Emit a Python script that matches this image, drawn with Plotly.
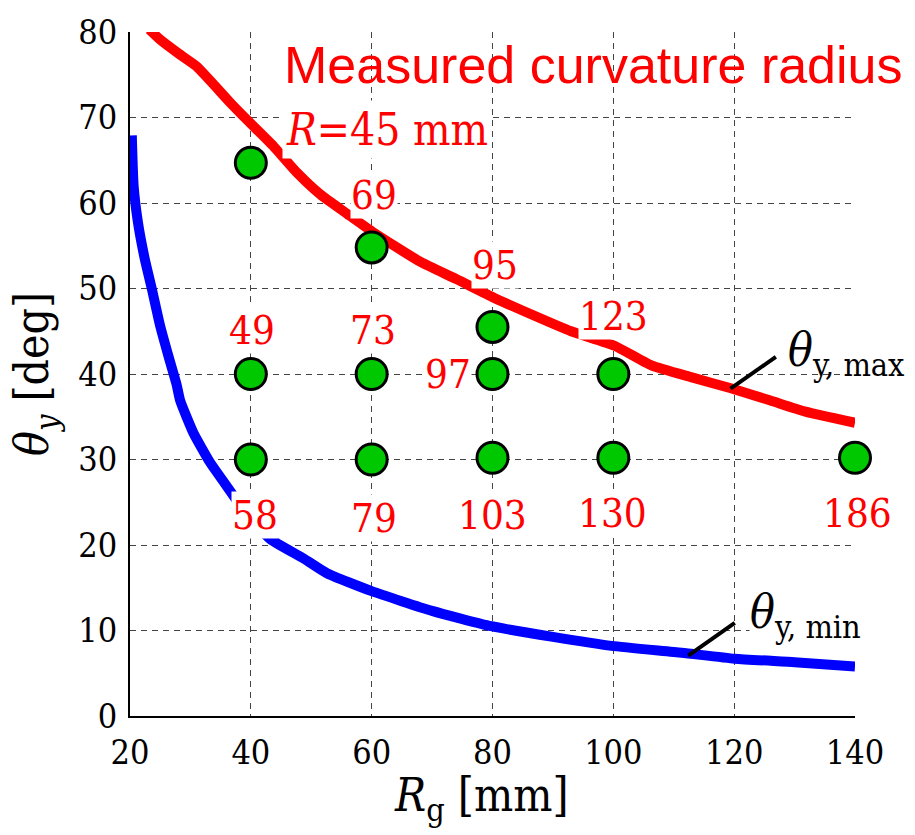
import plotly.graph_objects as go

# Upper limit curve theta_y,max versus guide radius R_g
rg_max = [23.2, 25, 28, 31, 33.8, 36.5, 39.4, 43.8, 47.7, 51.5, 56, 60.4, 68.1, 74,
          80.3, 86, 93, 100.2, 106.3, 113, 119.6, 126, 131.8, 140]
theta_max = [80.3, 79.1, 77.5, 76.0, 73.9, 71.8, 69.7, 66.6, 63.5, 61.0, 58.7, 56.5, 53.1, 51.1,
             48.9, 47.1, 45.0, 43.3, 41.0, 39.6, 38.3, 36.9, 35.6, 34.3]

# Lower limit curve theta_y,min versus guide radius R_g
rg_min = [20.3, 20.6, 21.3, 22.4, 23.6, 25.0, 26.4, 27.7, 28.3, 30.5, 33.3, 35.8, 39,
          43.2, 48.8, 52.6, 60, 70, 79.8, 90, 99.7, 111.3, 120.1, 130, 140]
theta_min = [67.9, 62.0, 57.8, 53.6, 50.0, 45.6, 42.0, 38.8, 36.9, 33.1, 29.6, 27.1, 23.9,
             20.7, 18.4, 16.7, 14.6, 12.3, 10.5, 9.25, 8.2, 7.4, 6.7, 6.3, 5.8]

# Test conditions and measured curvature radius [mm]
rg_pts = [40, 60, 80, 40, 60, 80, 100, 40, 60, 80, 100, 140]
theta_pts = [64.7, 54.8, 45.5, 40, 40, 40, 40, 30, 30, 30.2, 30.2, 30.2]
radius_pts = [45, 69, 95, 49, 73, 97, 123, 58, 79, 103, 130, 186]

# pixel offsets of each radius label from its point
label_shift = [(31, 33), (2, 52), (2, 62), (1, 44), (1, 44), (-45, 0), (0, 58),
               (4, -55), (2, -58), (0, -57), (-1, -55), (2, -55)]

x_ticks = [20, 40, 60, 80, 100, 120, 140]
y_ticks = [0, 10, 20, 30, 40, 50, 60, 70, 80]

SERIF = "DejaVu Serif Condensed, DejaVu Serif"
SANS = "Liberation Sans"

fig = go.Figure()
fig.add_trace(go.Scatter(x=rg_max, y=theta_max, mode="lines",
                         line=dict(color="#ff0000", width=10, shape="spline", smoothing=0.5),
                         showlegend=False))
fig.add_trace(go.Scatter(x=rg_min, y=theta_min, mode="lines",
                         line=dict(color="#0000ff", width=10, shape="spline", smoothing=0.5),
                         showlegend=False))
fig.add_trace(go.Scatter(x=rg_pts, y=theta_pts, mode="markers",
                         marker=dict(size=31, color="#00c800",
                                     line=dict(color="black", width=3)),
                         showlegend=False, cliponaxis=False))

annotations = []
for i, (xv, yv, r) in enumerate(zip(rg_pts, theta_pts, radius_pts)):
    dx, dy = label_shift[i]
    if i == 0:
        annotations.append(dict(x=xv, y=yv, xref="x", yref="y", xanchor="left",
                                yanchor="middle", xshift=dx, yshift=dy, showarrow=False,
                                text=f"<i>R</i>={r} mm", bgcolor="white", borderpad=3,
                                font=dict(family=SERIF, size=44, color="#ff0000")))
    else:
        annotations.append(dict(x=xv, y=yv, xref="x", yref="y", xanchor="center",
                                yanchor="middle", xshift=dx, yshift=dy, showarrow=False,
                                text=str(r), bgcolor="white", borderpad=0,
                                font=dict(family=SERIF, size=40, color="#ff0000")))

annotations.append(dict(x=45.2, y=76.1, xref="x", yref="y", xanchor="left", yanchor="middle",
                        showarrow=False, text="Measured curvature radius",
                        font=dict(family=SANS, size=52, color="#ff0000")))

# curve name labels
annotations.append(dict(x=128.6, y=42.4, xref="x", yref="y", xanchor="left", yanchor="middle",
                        showarrow=False, text="<i>θ</i><sub>y, max</sub>",
                        font=dict(family=SERIF, size=46, color="black")))
annotations.append(dict(x=122.5, y=11.8, xref="x", yref="y", xanchor="left", yanchor="middle",
                        showarrow=False, text="<i>θ</i><sub>y, min</sub>",
                        bgcolor="white", borderpad=0,
                        font=dict(family=SERIF, size=46, color="black")))

# axis titles
annotations.append(dict(x=0.4855, y=-0.121, xref="paper", yref="paper", xanchor="center",
                        yanchor="middle", showarrow=False, text="<i>R</i><sub>g</sub> [mm]",
                        font=dict(family=SERIF, size=46, color="black")))
annotations.append(dict(x=-0.131, y=0.5, xref="paper", yref="paper", xanchor="center",
                        yanchor="middle", showarrow=False, textangle=-90,
                        text="<i>θ</i><sub><i>y</i></sub> [deg]",
                        font=dict(family=SERIF, size=46, color="black")))

shapes = [
    dict(type="line", xref="x", yref="y", x0=119.4, y0=38.3, x1=126.9, y1=42.0,
         line=dict(color="black", width=4)),
    dict(type="line", xref="x", yref="y", x0=112.4, y0=7.05, x1=120.1, y1=10.9,
         line=dict(color="black", width=4)),
]

axis_common = dict(
    showgrid=True, gridcolor="#444444", gridwidth=1.3, griddash="6px,5px",
    showline=True, linecolor="black", linewidth=2, mirror=False,
    ticks="", zeroline=False,
    tickfont=dict(family=SERIF, size=34, color="black"),
)

fig.update_layout(
    width=915, height=835,
    margin=dict(l=130, r=60, t=24, b=119),
    paper_bgcolor="white", plot_bgcolor="white",
    xaxis=dict(range=[20, 140], tickvals=x_ticks, ticktext=[str(v) for v in x_ticks],
               ticklabelstandoff=5, **axis_common),
    yaxis=dict(range=[0, 80], tickvals=y_ticks, ticktext=[str(v) for v in y_ticks],
               ticklabelstandoff=4, **axis_common),
    annotations=annotations,
    shapes=shapes,
)

fig.write_html("out.html")
